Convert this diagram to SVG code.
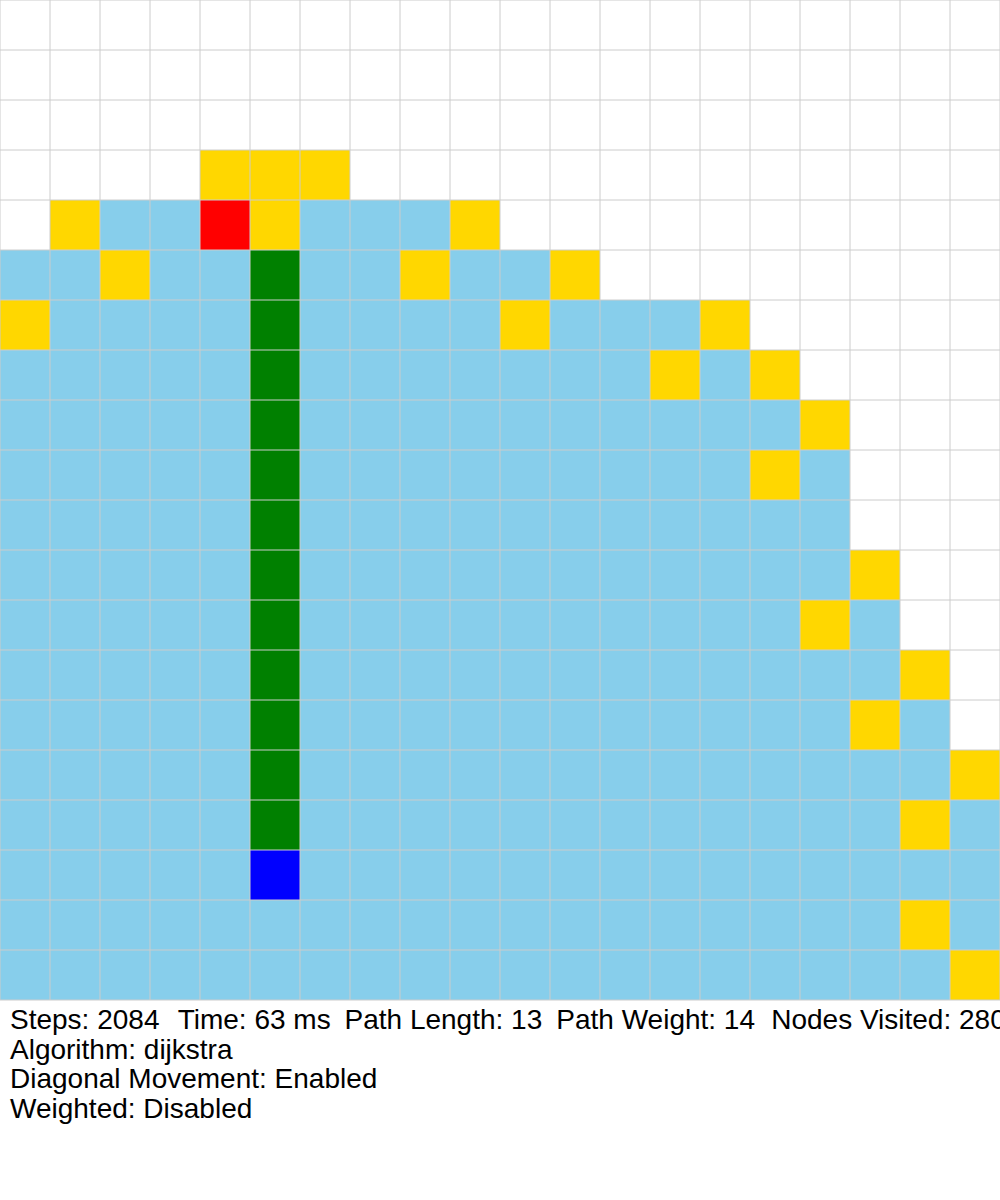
<svg xmlns="http://www.w3.org/2000/svg" width="1000" height="1200" viewBox="0 0 1000 1200">
<style>
.y{fill:#FFD700}
.grid{fill:none;stroke:#cccccc;stroke-width:1}
.t{font-family:"Liberation Sans",Arial,sans-serif;font-size:28px;fill:#000}
</style>
<rect x="0" y="0" width="1000" height="1200" fill="#ffffff"/>
<g id="visited">
<path d="M50,200 H500 V250 H600 V300 H750 V350 H800 V400 H850 V550 H900 V650 H950 V750 H1000 V1000 H0 V250 H50 Z" fill="#87CEEB"/>
</g>
<g id="frontier">
<rect class="y" x="200" y="150" width="50" height="50"/>
<rect class="y" x="250" y="150" width="50" height="50"/>
<rect class="y" x="300" y="150" width="50" height="50"/>
<rect class="y" x="50" y="200" width="50" height="50"/>
<rect class="y" x="250" y="200" width="50" height="50"/>
<rect class="y" x="450" y="200" width="50" height="50"/>
<rect class="y" x="100" y="250" width="50" height="50"/>
<rect class="y" x="400" y="250" width="50" height="50"/>
<rect class="y" x="550" y="250" width="50" height="50"/>
<rect class="y" x="0" y="300" width="50" height="50"/>
<rect class="y" x="500" y="300" width="50" height="50"/>
<rect class="y" x="700" y="300" width="50" height="50"/>
<rect class="y" x="650" y="350" width="50" height="50"/>
<rect class="y" x="750" y="350" width="50" height="50"/>
<rect class="y" x="800" y="400" width="50" height="50"/>
<rect class="y" x="750" y="450" width="50" height="50"/>
<rect class="y" x="850" y="550" width="50" height="50"/>
<rect class="y" x="800" y="600" width="50" height="50"/>
<rect class="y" x="900" y="650" width="50" height="50"/>
<rect class="y" x="850" y="700" width="50" height="50"/>
<rect class="y" x="950" y="750" width="50" height="50"/>
<rect class="y" x="900" y="800" width="50" height="50"/>
<rect class="y" x="900" y="900" width="50" height="50"/>
<rect class="y" x="950" y="950" width="50" height="50"/>
</g>
<g id="start"><rect x="200" y="200" width="50" height="50" fill="#FF0000"/></g>
<g id="path"><rect x="250" y="250" width="50" height="600" fill="#008000"/></g>
<g id="end"><rect x="250" y="850" width="50" height="50" fill="#0000FF"/></g>
<g id="gridlines">
<path class="grid" d="M0,0V1000 M50,0V1000 M100,0V1000 M150,0V1000 M200,0V1000 M250,0V1000 M300,0V1000 M350,0V1000 M400,0V1000 M450,0V1000 M500,0V1000 M550,0V1000 M600,0V1000 M650,0V1000 M700,0V1000 M750,0V1000 M800,0V1000 M850,0V1000 M900,0V1000 M950,0V1000 M1000,0V1000 M0,0H1000 M0,50H1000 M0,100H1000 M0,150H1000 M0,200H1000 M0,250H1000 M0,300H1000 M0,350H1000 M0,400H1000 M0,450H1000 M0,500H1000 M0,550H1000 M0,600H1000 M0,650H1000 M0,700H1000 M0,750H1000 M0,800H1000 M0,850H1000 M0,900H1000 M0,950H1000 M0,1000H1000"/>
</g>
<g id="stats">
<text class="t" y="1029"><tspan x="10">Steps: 2084</tspan><tspan x="177.7">Time: 63 ms</tspan><tspan x="344.5">Path Length: 13</tspan><tspan x="556.3">Path Weight: 14</tspan><tspan x="771.2">Nodes Visited: 280</tspan></text>
<text class="t" x="10" y="1058.5">Algorithm: dijkstra</text>
<text class="t" x="10" y="1088">Diagonal Movement: Enabled</text>
<text class="t" x="10" y="1118">Weighted: Disabled</text>
</g>
</svg>
